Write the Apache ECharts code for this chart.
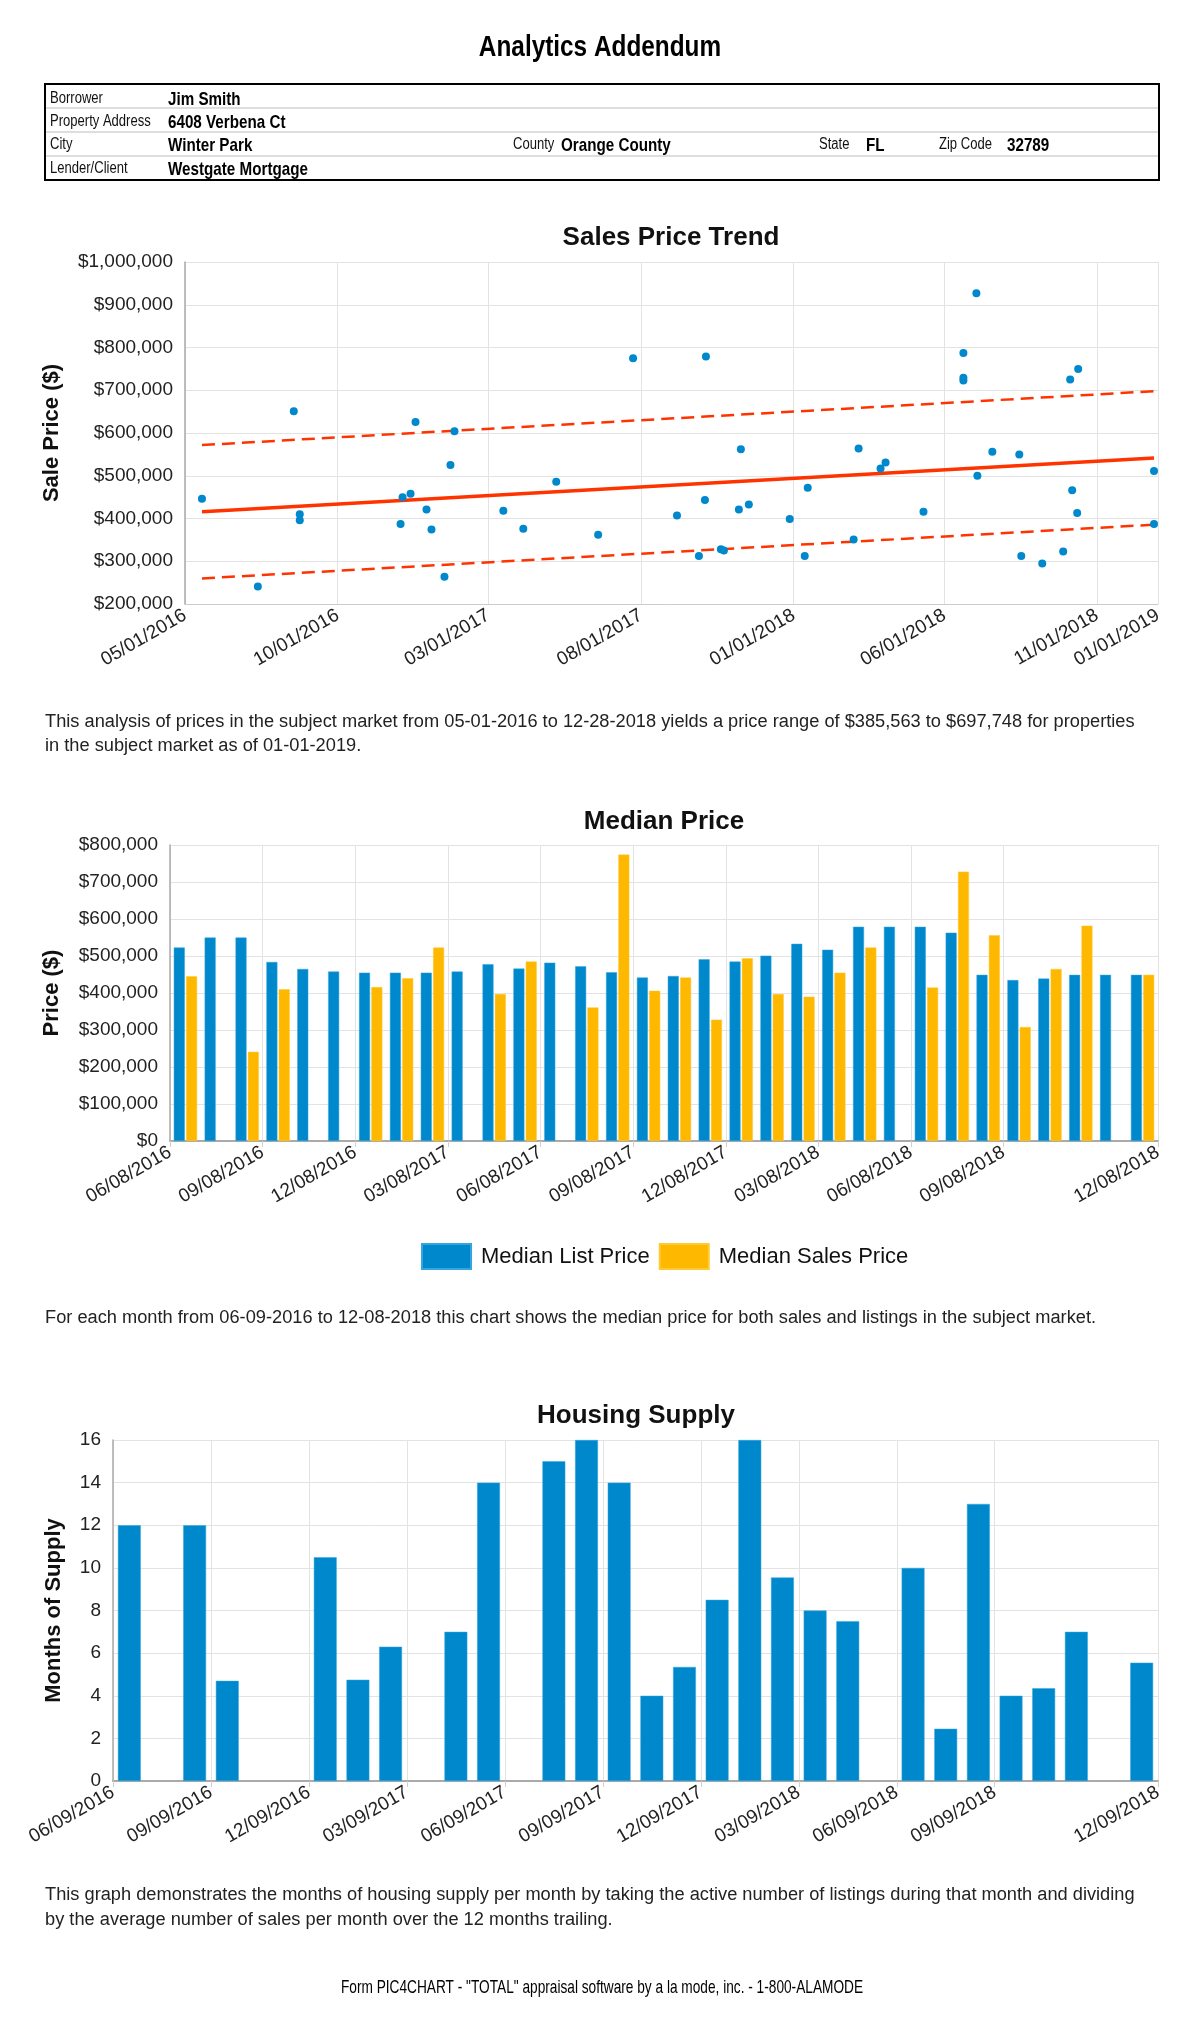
<!DOCTYPE html>
<html><head><meta charset="utf-8">
<script src="https://cdn.jsdelivr.net/npm/echarts@6/dist/echarts.min.js"></script>
<style>html,body{margin:0;padding:0;background:#fff}#c{width:1200px;height:2030px}</style>
</head><body><div id="c"></div>
<script>
// ---------------- DATA ----------------
const scatterDates = ['2016-05-18','2016-07-13','2016-08-18','2016-08-24','2016-08-24','2016-12-03','2016-12-05','2016-12-13','2016-12-18','2016-12-29','2017-01-03','2017-01-16','2017-01-22','2017-01-26','2017-03-16','2017-04-05','2017-05-08','2017-06-19','2017-07-24','2017-09-06','2017-09-28','2017-10-04','2017-10-05','2017-10-20','2017-10-23','2017-11-07','2017-11-09','2017-11-17','2017-12-28','2018-01-12','2018-01-15','2018-03-02','2018-03-07','2018-03-29','2018-04-03','2018-05-11','2018-06-20','2018-06-20','2018-06-20','2018-07-03','2018-07-04','2018-07-19','2018-08-15','2018-08-17','2018-09-07','2018-09-28','2018-10-05','2018-10-07','2018-10-12','2018-10-13','2018-12-28','2018-12-28'];
const scatterPrices = [446000,241000,651000,410000,396000,387000,450000,458000,626000,421000,374000,264000,525000,604000,418000,376000,486000,362000,775000,407000,312000,443000,779000,328000,325000,421000,562000,433000,399000,312000,472000,351000,564000,517000,531000,416000,787000,729000,723000,927000,500000,556000,550000,312000,295000,323000,725000,466000,413000,750000,511000,387000];
const scatterAxisMin = '2016-05-01';
const scatterAxisMax = '2019-01-01';
const scatterTickDates = ['2016-05-01','2016-10-01','2017-03-01','2017-08-01','2018-01-01','2018-06-01','2018-11-01','2019-01-01'];
const trendDates = ['2016-05-18','2018-12-28'];
const trendMid = [415800, 541655];
const trendUpper = [571900, 697748];
const trendLower = [259700, 385563];

const periods = ['1','2','3','4','5','6','7','8','9','10','11','12','13','14','15','16','17','18','19','20','21','22','23','24','25','26','27','28','29','30','31','32'];
const medianList = [523000,550000,550000,484000,465000,458000,455000,455000,455000,458000,478000,466000,482000,472000,456000,442000,446000,491000,485000,501000,533000,517000,579000,579000,579000,563000,449000,435000,439000,449000,449000,449000];
const medianSales = [445000,null,241000,410000,null,null,416000,440000,523000,null,397000,485000,null,361000,774000,406000,442000,328000,494000,397000,390000,455000,523000,null,415000,728000,556000,308000,465000,582000,null,449000];
const medianTickPos = [0,3,6,9,12,15,18,21,24,27,32];
const medianTickLabels = ['06/08/2016','09/08/2016','12/08/2016','03/08/2017','06/08/2017','09/08/2017','12/08/2017','03/08/2018','06/08/2018','09/08/2018','12/08/2018'];

const housingSupply = [12,null,12,4.7,null,null,10.5,4.75,6.3,null,7,14,null,15,16,14,4,5.35,8.5,16,9.55,8,7.5,null,10,2.45,13,4,4.35,7,null,5.55];
const housingTickPos = [0,3,6,9,12,15,18,21,24,27,32];
const housingTickLabels = ['06/09/2016','09/09/2016','12/09/2016','03/09/2017','06/09/2017','09/09/2017','12/09/2017','03/09/2018','06/09/2018','09/09/2018','12/09/2018'];

// ---------------- HELPERS ----------------
const toTs = s => Date.UTC(+s.slice(0,4), +s.slice(5,7)-1, +s.slice(8,10));
const pad = n => (n < 10 ? '0' : '') + n;
const fmtDate = ts => { const d = new Date(ts); return pad(d.getUTCMonth()+1) + '/' + pad(d.getUTCDate()) + '/' + d.getUTCFullYear(); };
const money = v => '$' + String(Math.round(v)).replace(/\B(?=(\d{3})+(?!\d))/g, ',');

const FONT = '"Liberation Sans", Arial, Helvetica, sans-serif';
const BLUE = '#0088cc', ORANGE = '#ffb800', RED = '#ff3300';
const GRID = '#e3e3e3', AXIS = '#aaaaaa', TXT = '#222222';

const xLabel = { fontSize: 19, color: TXT, rotate: 30, margin: 10, fontFamily: FONT };
const yLabel = { fontSize: 19, color: TXT, margin: 12, fontFamily: FONT };
const nameStyle = { fontSize: 22, fontWeight: 'bold', color: '#111', fontFamily: FONT };
const split = { show: true, lineStyle: { color: GRID, width: 1 } };

function lookup(pos, labels) { return v => { const i = pos.indexOf(Math.round(v)); return i >= 0 ? labels[i] : ''; }; }

// ---------------- GRAPHICS (header, table, titles, paragraphs) ----------------
const g = [];
function txt(text, x, y, font, fill, align, sx) {
  g.push({ type: 'text', silent: true, x: x, y: y, scaleX: sx || 1, scaleY: 1,
    style: { text: text, x: 0, y: 0, font: font, fill: fill || TXT, align: align || 'left', verticalAlign: 'middle' } });
}
function hline(x1, x2, y, color, w) {
  g.push({ type: 'line', silent: true, shape: { x1: x1, y1: y, x2: x2, y2: y }, style: { stroke: color, lineWidth: w } });
}
txt('Analytics Addendum', 600, 48, 'bold 29px ' + FONT, '#000', 'center', 0.84);
g.push({ type: 'rect', silent: true, shape: { x: 45, y: 84, width: 1114, height: 96 }, style: { fill: 'none', stroke: '#000', lineWidth: 2 } });
hline(46, 1158, 108, '#bdbdbd', 1);
hline(46, 1158, 132, '#bdbdbd', 1);
hline(46, 1158, 156, '#bdbdbd', 1);
const LBL = '16px ' + FONT, VAL = 'bold 19px ' + FONT, LS = 0.815, VS = 0.8;
txt('Borrower', 50, 99, LBL, '#111', 'left', LS);          txt('Jim Smith', 168, 100, VAL, '#000', 'left', VS);
txt('Property Address', 50, 122, LBL, '#111', 'left', LS);  txt('6408 Verbena Ct', 168, 123, VAL, '#000', 'left', VS);
txt('City', 50, 145, LBL, '#111', 'left', LS);              txt('Winter Park', 168, 146, VAL, '#000', 'left', VS);
txt('County', 513, 145, LBL, '#111', 'left', LS);           txt('Orange County', 561, 146, VAL, '#000', 'left', VS);
txt('State', 819, 145, LBL, '#111', 'left', LS);            txt('FL', 866, 146, VAL, '#000', 'left', VS);
txt('Zip Code', 939, 145, LBL, '#111', 'left', LS);         txt('32789', 1007, 146, VAL, '#000', 'left', VS);
txt('Lender/Client', 50, 169, LBL, '#111', 'left', LS);     txt('Westgate Mortgage', 168, 170, VAL, '#000', 'left', VS);

// chart titles
txt('Sales Price Trend', 671, 238, 'bold 26px ' + FONT, '#111', 'center');
txt('Median Price', 664, 822, 'bold 26px ' + FONT, '#111', 'center');
txt('Housing Supply', 636, 1416, 'bold 26px ' + FONT, '#111', 'center');

// paragraphs
const PF = '18px ' + FONT, PS = 1.013;
txt('This analysis of prices in the subject market from 05-01-2016 to 12-28-2018 yields a price range of $385,563 to $697,748 for properties', 45, 722, PF, TXT, 'left', PS);
txt('in the subject market as of 01-01-2019.', 45, 746, PF, TXT, 'left', PS);
txt('For each month from 06-09-2016 to 12-08-2018 this chart shows the median price for both sales and listings in the subject market.', 45, 1318, PF, TXT, 'left', PS);
txt('This graph demonstrates the months of housing supply per month by taking the active number of listings during that month and dividing', 45, 1895, PF, TXT, 'left', PS);
txt('by the average number of sales per month over the 12 months trailing.', 45, 1920, PF, TXT, 'left', PS);
txt('Form PIC4CHART - "TOTAL" appraisal software by a la mode, inc. - 1-800-ALAMODE', 602, 1988, '19px ' + FONT, '#000', 'center', 0.72);

// ---------------- CHART ----------------
const chart = echarts.init(document.getElementById('c'), null, { renderer: 'canvas', width: 1200, height: 2030 });
const scatterTicks = scatterTickDates.map(toTs);

chart.setOption({
  animation: false,
  backgroundColor: '#fff',
  textStyle: { fontFamily: FONT },
  graphic: g,
  legend: {
    data: ['Median List Price', 'Median Sales Price'],
    left: 416, top: 1238, icon: 'rect', itemWidth: 49, itemHeight: 25, itemGap: 9,
    textStyle: { fontSize: 22, color: '#111', fontFamily: FONT, padding: [0, 0, 0, 5] }
  },
  grid: [
    { left: 185, right: 42, top: 262, height: 342 },
    { left: 170, right: 42, top: 845, height: 296 },
    { left: 113, right: 42, top: 1440, height: 341 }
  ],
  xAxis: [
    { // scatter dates (timestamps on a value axis)
      type: 'value', gridIndex: 0, min: toTs(scatterAxisMin), max: toTs(scatterAxisMax),
      axisLine: { show: true, lineStyle: { color: '#cccccc' } },
      axisTick: { show: true, customValues: scatterTicks, length: 0, lineStyle: { color: GRID } },
      axisLabel: Object.assign({ customValues: scatterTicks, formatter: v => fmtDate(v), showMinLabel: true, showMaxLabel: true }, xLabel),
      splitLine: split
    },
    { // median bars
      type: 'category', gridIndex: 1, data: periods, boundaryGap: true, position: 'bottom',
      axisLine: { show: true, lineStyle: { color: AXIS, width: 2 } },
      axisTick: { show: false }, axisLabel: { show: false }, splitLine: { show: false }
    },
    { // median label overlay
      type: 'value', gridIndex: 1, min: 0, max: 32, position: 'bottom',
      axisLine: { show: false },
      axisTick: { show: true, customValues: medianTickPos, length: 6, lineStyle: { color: '#d0d0d0' } },
      axisLabel: Object.assign({ customValues: medianTickPos, formatter: lookup(medianTickPos, medianTickLabels) }, xLabel),
      splitLine: split
    },
    { // housing bars
      type: 'category', gridIndex: 2, data: periods, boundaryGap: true, position: 'bottom',
      axisLine: { show: true, lineStyle: { color: AXIS, width: 2 } },
      axisTick: { show: false }, axisLabel: { show: false }, splitLine: { show: false }
    },
    { // housing label overlay
      type: 'value', gridIndex: 2, min: 0, max: 32, position: 'bottom',
      axisLine: { show: false },
      axisTick: { show: true, customValues: housingTickPos, length: 6, lineStyle: { color: '#d0d0d0' } },
      axisLabel: Object.assign({ customValues: housingTickPos, formatter: lookup(housingTickPos, housingTickLabels) }, xLabel),
      splitLine: split
    }
  ],
  yAxis: [
    {
      type: 'value', gridIndex: 0, min: 200000, max: 1000000, interval: 100000,
      name: 'Sale Price ($)', nameLocation: 'middle', nameGap: 122, nameTextStyle: nameStyle,
      axisLine: { show: true, lineStyle: { color: AXIS, width: 1.5 } }, axisTick: { show: false },
      axisLabel: Object.assign({ formatter: money }, yLabel), splitLine: split
    },
    {
      type: 'value', gridIndex: 1, min: 0, max: 800000, interval: 100000,
      name: 'Price ($)', nameLocation: 'middle', nameGap: 107, nameTextStyle: nameStyle,
      axisLine: { show: true, lineStyle: { color: AXIS, width: 1.5 } }, axisTick: { show: false },
      axisLabel: Object.assign({ formatter: money }, yLabel), splitLine: split
    },
    {
      type: 'value', gridIndex: 2, min: 0, max: 16, interval: 2,
      name: 'Months of Supply', nameLocation: 'middle', nameGap: 48, nameTextStyle: nameStyle,
      axisLine: { show: true, lineStyle: { color: AXIS, width: 1.5 } }, axisTick: { show: false },
      axisLabel: yLabel, splitLine: split
    }
  ],
  series: [
    {
      name: 'Trend', type: 'line', xAxisIndex: 0, yAxisIndex: 0, symbol: 'none', z: 3,
      data: trendDates.map((d, i) => [toTs(d), trendMid[i]]),
      lineStyle: { color: RED, width: 3.5 }
    },
    {
      name: 'Upper', type: 'line', xAxisIndex: 0, yAxisIndex: 0, symbol: 'none', z: 3,
      data: trendDates.map((d, i) => [toTs(d), trendUpper[i]]),
      lineStyle: { color: RED, width: 2.5, type: [13, 7] }
    },
    {
      name: 'Lower', type: 'line', xAxisIndex: 0, yAxisIndex: 0, symbol: 'none', z: 3,
      data: trendDates.map((d, i) => [toTs(d), trendLower[i]]),
      lineStyle: { color: RED, width: 2.5, type: [13, 7] }
    },
    {
      name: 'Sales', type: 'scatter', xAxisIndex: 0, yAxisIndex: 0, symbolSize: 8, z: 5,
      itemStyle: { color: BLUE, opacity: 1 },
      data: scatterDates.map((d, i) => [toTs(d), scatterPrices[i]])
    },
    {
      name: 'Median List Price', type: 'bar', xAxisIndex: 1, yAxisIndex: 1,
      barWidth: 11, barGap: '12%', itemStyle: { color: BLUE, borderColor: '#33a6e0', borderWidth: 0.5 },
      data: medianList
    },
    {
      name: 'Median Sales Price', type: 'bar', xAxisIndex: 1, yAxisIndex: 1,
      barWidth: 11, barGap: '12%', itemStyle: { color: ORANGE, borderColor: '#ffc933', borderWidth: 0.5 },
      data: medianSales
    },
    {
      name: 'Months of Supply', type: 'bar', xAxisIndex: 3, yAxisIndex: 2,
      barWidth: '70%', itemStyle: { color: BLUE, borderColor: '#33a6e0', borderWidth: 0.5 },
      data: housingSupply
    }
  ]
});
</script></body></html>
